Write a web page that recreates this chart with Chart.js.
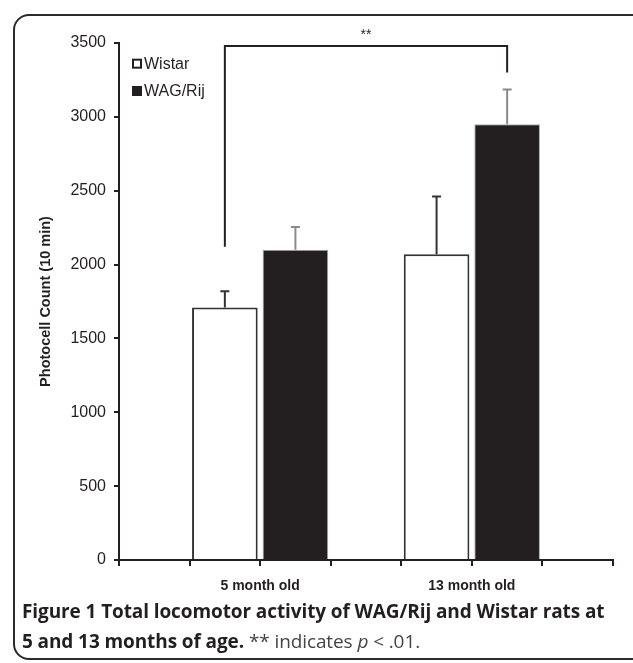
<!DOCTYPE html>
<html>
<head>
<meta charset="utf-8">
<script src="https://cdn.jsdelivr.net/npm/chart.js@4.4.0/dist/chart.umd.min.js"></script>
<style>
html, body { margin: 0; padding: 0; background: #fff; }
body { width: 633px; height: 663px; position: relative; overflow: hidden; }
#frame { position: absolute; left: 13px; top: 14px; width: 660px; height: 646px; border: 2px solid #2b2b2b; border-radius: 16px; box-sizing: border-box; }
#ratChart { position: absolute; left: 0; top: 0; }
#caption { position: absolute; left: 22px; top: 596px; width: 620px; white-space: nowrap; font-family: "Open Sans", "Noto Sans", sans-serif; font-size: 19px; line-height: 30px; color: #231f20; letter-spacing: -0.1px; }
#caption b { font-weight: 700; }
#caption .note { font-weight: 400; color: #444; }
</style>
</head>
<body>
<div id="frame"></div>
<canvas id="ratChart" width="633" height="600"></canvas>
<div id="caption"><b>Figure 1 Total locomotor activity of WAG/Rij and Wistar rats at</b><br><b>5 and 13 months of age.</b> <span class="note">** indicates <i>p</i> &lt; .01.</span></div>
<script>
var categories = ['5 month old', '13 month old'];
var seriesNames = ['Wistar', 'WAG/Rij'];
var wistarMeans = [1710, 2070];
var wistarErrors = [110, 390];
var wagMeans = [2100, 2950];
var wagErrors = [155, 235];
var yTicks = [0, 500, 1000, 1500, 2000, 2500, 3000, 3500];
var sigLabel = '**';
// bracket: top level, left leg end, right leg end (in axis units)
var sigTop = 3480, sigLeftEnd = 2120, sigRightEnd = 3300;

// every category takes 3 slots: Wistar, WAG/Rij, empty gap
function slot(i, k) { return 3 * i + 1.5 + k; }

var wistarPoints = wistarMeans.map((v, i) => ({ x: slot(i, 0), y: v }));
var wagPoints = wagMeans.map((v, i) => ({ x: slot(i, 1), y: v }));
var xMax = 3 * categories.length + 1;
var xTicks = [];
for (var t = 0; t <= xMax; t++) xTicks.push(t);

var ink = '#231f20';
var font = '"Liberation Sans", Arial, sans-serif';

var errorBars = {
    id: 'errorBars',
    afterDatasetsDraw: function (chart) {
        var ctx = chart.ctx, y = chart.scales.y;
        chart.data.datasets.forEach(function (ds, i) {
            var meta = chart.getDatasetMeta(i);
            meta.data.forEach(function (bar, j) {
                var top = y.getPixelForValue(ds.data[j].y + ds.errors[j]);
                ctx.save();
                ctx.strokeStyle = ds.errorColor;
                ctx.lineWidth = 2;
                ctx.beginPath();
                ctx.moveTo(bar.x, bar.y);
                ctx.lineTo(bar.x, top);
                ctx.moveTo(bar.x - 4.5, top);
                ctx.lineTo(bar.x + 4.5, top);
                ctx.stroke();
                ctx.restore();
            });
        });
    }
};

var extras = {
    id: 'extras',
    afterDraw: function (chart) {
        var ctx = chart.ctx, y = chart.scales.y;
        var left = chart.getDatasetMeta(0).data[0].x;
        var right = chart.getDatasetMeta(1).data[1].x;
        var yTop = y.getPixelForValue(sigTop);
        ctx.save();
        ctx.strokeStyle = ink;
        ctx.lineWidth = 2;
        ctx.beginPath();
        ctx.moveTo(left, y.getPixelForValue(sigLeftEnd));
        ctx.lineTo(left, yTop);
        ctx.lineTo(right, yTop);
        ctx.lineTo(right, y.getPixelForValue(sigRightEnd));
        ctx.stroke();
        ctx.fillStyle = ink;
        ctx.font = '14px ' + font;
        ctx.textAlign = 'center';
        ctx.textBaseline = 'middle';
        ctx.fillText(sigLabel, (left + right) / 2, yTop - 11);

        // legend in the top-left corner of the plot
        var lx = chart.chartArea.left + 14;
        var ly = [y.getPixelForValue(3360), y.getPixelForValue(3175)];
        ctx.font = '16px ' + font;
        ctx.textAlign = 'left';
        seriesNames.forEach(function (name, i) {
            if (i === 0) {
                ctx.fillStyle = '#fff';
                ctx.fillRect(lx, ly[i] - 4, 8, 8);
                ctx.lineWidth = 2;
                ctx.strokeStyle = ink;
                ctx.strokeRect(lx, ly[i] - 4, 8, 8);
            } else {
                ctx.fillStyle = ink;
                ctx.fillRect(lx - 1, ly[i] - 5, 10, 10);
            }
            ctx.fillStyle = ink;
            ctx.fillText(name, lx + 11, ly[i] + 1);
        });
        ctx.restore();
    }
};

var ctx = document.getElementById('ratChart').getContext('2d');
var chart = new Chart(ctx, {
    type: 'bar',
    data: {
        datasets: [{
            label: seriesNames[0],
            data: wistarPoints,
            errors: wistarErrors,
            errorColor: '#333',
            backgroundColor: '#fff',
            borderColor: '#333',
            borderWidth: 2
        }, {
            label: seriesNames[1],
            data: wagPoints,
            errors: wagErrors,
            errorColor: '#8a8a8a',
            backgroundColor: ink,
            borderColor: '#aaa',
            borderWidth: 1
        }]
    },
    options: {
        responsive: false,
        animation: false,
        grouped: false,
        barPercentage: 0.93,
        categoryPercentage: 1,
        layout: { padding: { top: 43, right: 20, left: 0, bottom: 0 } },
        scales: {
            x: {
                type: 'linear',
                min: 0,
                max: xMax,
                offset: false,
                afterFit: function (s) { s.height = 40; },
                afterBuildTicks: function (s) { s.ticks = xTicks.map(v => ({ value: v })); },
                grid: { offset: false, drawOnChartArea: false, drawTicks: true, tickLength: 6, color: ink, lineWidth: 2 },
                border: { color: ink, width: 2 },
                ticks: {
                    autoSkip: false,
                    maxRotation: 0,
                    padding: 12,
                    color: ink,
                    font: { family: font, size: 14, weight: 'bold' },
                    callback: function (value) {
                        var i = (value - 2) / 3;
                        return Number.isInteger(i) && categories[i] ? categories[i] : '';
                    }
                }
            },
            y: {
                min: yTicks[0],
                max: yTicks[yTicks.length - 1],
                afterFit: function (s) { s.width = 119; },
                afterBuildTicks: function (s) { s.ticks = yTicks.map(v => ({ value: v })); },
                grid: { drawOnChartArea: false, drawTicks: true, tickLength: 5, color: ink, lineWidth: 2 },
                border: { color: ink, width: 2 },
                ticks: {
                    padding: 8,
                    color: ink,
                    font: { family: font, size: 16 },
                    callback: function (value) { return String(value); }
                },
                title: {
                    display: true,
                    text: 'Photocell Count (10 min)',
                    color: ink,
                    padding: { top: 37, bottom: 0 },
                    font: { family: font, size: 14.5, weight: 'bold' }
                }
            }
        },
        plugins: {
            legend: { display: false },
            tooltip: { enabled: false }
        }
    },
    plugins: [errorBars, extras]
});
</script>
</body>
</html>
